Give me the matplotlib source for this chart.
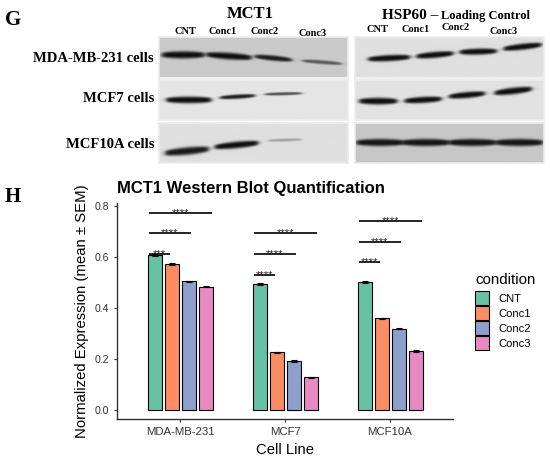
import matplotlib.pyplot as plt
import numpy as np
from matplotlib.patches import Patch

W, H = 550, 458
SANS = 'Liberation Sans'
SERIF = 'Liberation Serif'

# ---------------- panel H data ----------------
cell_lines = ['MDA-MB-231', 'MCF7', 'MCF10A']
conditions = ['CNT', 'Conc1', 'Conc2', 'Conc3']
colors = ['#66C2A5', '#FC8D62', '#8DA0CB', '#E78AC3']

cnt_vals = [0.608, 0.494, 0.502]
conc1_vals = [0.572, 0.226, 0.360]
conc2_vals = [0.505, 0.192, 0.318]
conc3_vals = [0.484, 0.129, 0.231]

cnt_sem = [0.004, 0.003, 0.003]
conc1_sem = [0.003, 0.002, 0.002]
conc2_sem = [0.002, 0.003, 0.002]
conc3_sem = [0.002, 0.002, 0.003]

# bracket heights (CNT vs Conc1, Conc2, Conc3) per cell line
sig_heights = [[0.612, 0.693, 0.771],
               [0.531, 0.612, 0.693],
               [0.580, 0.660, 0.742]]
sig_labels = [['***', '****', '****'],
              ['****', '****', '****'],
              ['****', '****', '****']]

# ---------------- panel G blot description ----------------
blot_rows = ['MDA-MB-231 cells', 'MCF7 cells', 'MCF10A cells']

mct1_bg = [0.79, 0.895, 0.875]
mct1_lane_pos = [[0.51, 1.48, 2.42, 3.45], [0.63, 1.66, 2.63, 3.6], [0.59, 1.64, 2.66, 3.6]]
mct1_band_y = [[0.46, 0.49, 0.54, 0.64], [0.51, 0.43, 0.36, 0.3], [0.71, 0.56, 0.44, 0.4]]
mct1_strength = [[1.0, 1.0, 0.92, 0.6], [1.0, 0.92, 0.7, 0.0], [0.95, 1.0, 0.3, 0.0]]
mct1_thick = [[7.5, 7.0, 5.5, 4.0], [7.0, 4.5, 3.2, 2.0], [8.0, 7.0, 3.0, 2.0]]
mct1_width = [[0.9, 0.95, 0.78, 0.82], [0.95, 0.74, 0.78, 0.8], [0.92, 0.92, 0.7, 0.8]]
mct1_tilt = [[0, 3, 3.5, 3], [0, -2, -1, 0], [-4, -4, -1, 0]]

hsp60_bg = [0.875, 0.885, 0.78]
hsp60_lane_pos = [[0.72, 1.69, 2.61, 3.55], [0.49, 1.44, 2.37, 3.35], [0.53, 1.5, 2.49, 3.48]]
hsp60_band_y = [[0.54, 0.46, 0.38, 0.26], [0.54, 0.51, 0.39, 0.29], [0.5, 0.5, 0.5, 0.5]]
hsp60_strength = [[1.0, 1.0, 1.0, 1.0], [1.0, 1.0, 1.0, 1.0], [0.97, 0.97, 0.97, 0.97]]
hsp60_thick = [[6.5, 6.5, 6.5, 6.5], [7.0, 6.5, 6.5, 7.0], [7.5, 7.5, 7.5, 7.5]]
hsp60_width = [[0.88, 0.78, 0.78, 0.8], [0.8, 0.78, 0.76, 0.78], [1.0, 1.0, 1.0, 1.0]]
hsp60_tilt = [[-2, -3, -1, -4], [0, -2, -3, -4], [0, 0, 0, 0]]


def fx(px):
    return px / W


def fy(py):
    return 1 - py / H


def blot_image(bg, pos, ys, strength, thick, widths, tilt, ph):
    nx, ny = 760, 160
    X, Y = np.meshgrid(np.linspace(0, 4, nx), np.linspace(0, 1, ny))
    keep = np.ones_like(X)
    for xc, y0, s, t, w, tl in zip(pos, ys, strength, thick, widths, tilt):
        if s <= 0:
            continue
        yc = y0 + tl / ph * (X - xc) / w
        half = t / 2 / ph
        # a bit thinner towards the band ends
        taper = 1 - 0.35 * ((X - xc) / (w / 2)) ** 2
        vert = np.exp(-np.abs((Y - yc) / (half * np.clip(taper, 0.4, 1))) ** 3)
        horiz = 1 / (1 + np.exp(-(X - (xc - w / 2)) / 0.03)) * 1 / (1 + np.exp((X - (xc + w / 2)) / 0.03))
        keep *= 1 - s * vert * horiz
    dark = 1 - keep
    return bg * (1 - dark) + 0.06 * dark


fig = plt.figure(figsize=(5.5, 4.58), dpi=100)

# ---------------- panel G ----------------
panel_left = [159, 355]
panel_w = 189
row_tops = [37, 80, 122.5]
row_h = 40.5

blots = [(mct1_bg, mct1_lane_pos, mct1_band_y, mct1_strength, mct1_thick, mct1_width, mct1_tilt),
         (hsp60_bg, hsp60_lane_pos, hsp60_band_y, hsp60_strength, hsp60_thick, hsp60_width, hsp60_tilt)]

for col, (bg, pos, ys, st, th, wd, tl) in enumerate(blots):
    for r in range(3):
        bax = fig.add_axes([fx(panel_left[col]), fy(row_tops[r] + row_h), panel_w / W, row_h / H])
        img = blot_image(bg[r], pos[r], ys[r], st[r], th[r], wd[r], tl[r], row_h)
        bax.imshow(img, cmap='gray', vmin=0, vmax=1, extent=(0, 4, 1, 0),
                   aspect='auto', interpolation='bilinear')
        bax.set_xticks([])
        bax.set_yticks([])
        for sp in bax.spines.values():
            sp.set_color('#ececec')
            sp.set_linewidth(1.2)

fig.text(fx(5), fy(20), 'G', family=SERIF, weight='bold', size=15, va='center')
fig.text(fx(250), fy(14), 'MCT1', family=SERIF, weight='bold', size=12, ha='center', va='center')
fig.text(fx(382), fy(19), 'HSP60 –', family=SERIF, weight='bold', size=11, va='baseline')
fig.text(fx(441), fy(19), 'Loading Control', family=SERIF, weight='bold', size=9, va='baseline')

lane_label_x = [[185.8, 222.3, 264.2, 312.2], [377, 415.8, 456, 504]]
lane_label_y = [[31.5, 31.5, 31, 33], [30, 29, 27.5, 31.7]]
for col in range(2):
    for name, lx, ly in zip(conditions, lane_label_x[col], lane_label_y[col]):
        fig.text(fx(lx), fy(ly), name, family=SERIF, weight='bold', size=7.5, ha='center', va='center')

row_label_y = [58.3, 98.3, 144.3]
for name, ly in zip(blot_rows, row_label_y):
    fig.text(fx(154), fy(ly), name, family=SERIF, weight='bold', size=10.5, ha='right', va='center')

fig.text(fx(5), fy(197.5), 'H', family=SERIF, weight='bold', size=15, va='center')

# ---------------- panel H ----------------
ax_l, ax_r, ax_t, ax_b = 117.3, 453, 203.3, 419
ax = fig.add_axes([fx(ax_l), fy(ax_b), (ax_r - ax_l) / W, (ax_b - ax_t) / H])

x = np.arange(len(cell_lines))
step, bw = 0.162, 0.133
all_vals = [cnt_vals, conc1_vals, conc2_vals, conc3_vals]
all_sem = [cnt_sem, conc1_sem, conc2_sem, conc3_sem]
for i, (vals, sems) in enumerate(zip(all_vals, all_sem)):
    p = x + (i - 1.5) * step
    ax.bar(p, vals, width=bw, color=colors[i], edgecolor='black', linewidth=0.8)
    ax.errorbar(p, vals, yerr=sems, fmt='none', ecolor='black', elinewidth=0.8,
                capsize=2, capthick=0.8)

for g in range(len(cell_lines)):
    for k in range(3):
        x0, x1 = g - 0.3, g - 0.1 + 0.2 * k
        y = sig_heights[g][k]
        ax.plot([x0, x1], [y, y], color='black', lw=1.2, solid_capstyle='butt')
        ax.text((x0 + x1) / 2, y - 0.012, sig_labels[g][k], ha='center', va='baseline',
                fontsize=8, family=SANS, color='#222222')

ax.set_xlim(-0.6, 2.6)
ax.set_ylim(-0.035, 0.81)
ax.set_xticks(x)
ax.set_xticklabels(cell_lines, family=SANS)
ax.set_yticks([0, 0.2, 0.4, 0.6, 0.8])
ax.set_yticklabels(['0.0', '0.2', '0.4', '0.6', '0.8'], family=SANS)
ax.tick_params(axis='y', labelsize=7.6, length=2.2, width=0.8, color='#333333',
               labelcolor='#333333', pad=4.0)
ax.tick_params(axis='x', labelsize=8.2, length=2.2, width=0.8, color='#333333',
               labelcolor='#333333', pad=3.4)
for side in ['top', 'right']:
    ax.spines[side].set_visible(False)
for side in ['left', 'bottom']:
    ax.spines[side].set_color('#333333')
    ax.spines[side].set_linewidth(1.0)

ax.set_ylabel('Normalized Expression (mean ± SEM)', family=SANS, fontsize=10.7)
ax.yaxis.set_label_coords(-0.0843, 0.5)
ax.set_xlabel('Cell Line', family=SANS, fontsize=10.7)
ax.xaxis.set_label_coords(0.5, -0.109)
ax.set_title('MCT1 Western Blot Quantification', loc='left', family=SANS,
             fontsize=12, fontweight='bold', pad=7.2)

# legend: title as separate text so the gap to the keys matches
fig.text(fx(475), fy(283.5), 'condition', family=SANS, size=10.8, va='baseline')
handles = [Patch(facecolor=c, edgecolor='black', linewidth=0.8) for c in colors]
leg = fig.legend(handles, conditions, loc='upper left',
                 bbox_to_anchor=(fx(475), fy(291.5)), frameon=False,
                 prop={'family': SANS, 'size': 8},
                 handlelength=1.26, handleheight=1.56, labelspacing=0.09,
                 handletextpad=0.8, borderpad=0, borderaxespad=0)

fig.savefig('out.png', dpi=100)
